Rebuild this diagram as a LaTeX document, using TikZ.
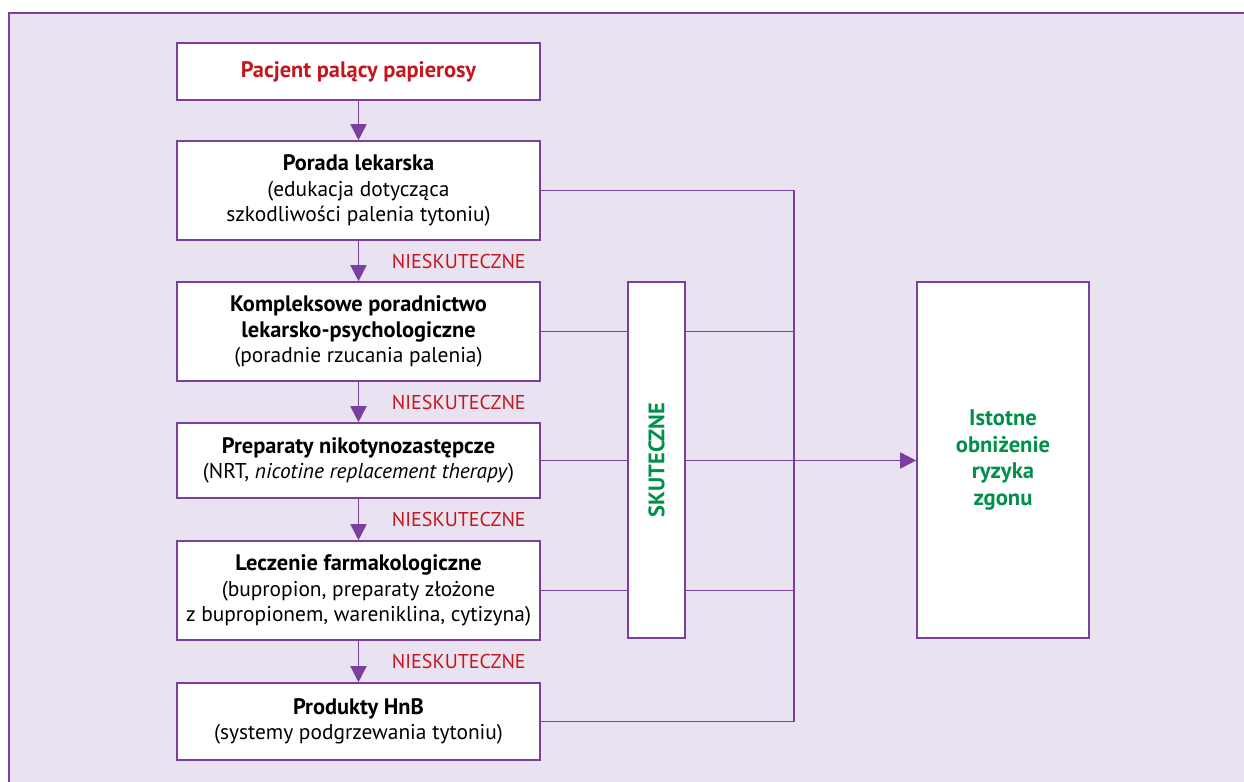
\documentclass[tikz,border=0pt]{standalone}
\usepackage{fontspec}
\setmainfont{PT Sans}
\usetikzlibrary{arrows.meta,positioning}

\definecolor{fiolet}{HTML}{7B3F9E}
\definecolor{tlo}{HTML}{E9E2F0}
\definecolor{czerwony}{HTML}{C4161C}
\definecolor{zielony}{HTML}{00904A}

\newcommand{\tyt}[1]{{\fontsize{11.2}{12.6}\selectfont\bfseries #1}}

\tikzset{
    krok/.style={rectangle, draw=fiolet, line width=0.8pt, fill=white, minimum width=181.5pt, align=center, inner sep=2pt, font=\fontsize{10.7}{12.6}\selectfont},
    nie/.style={text=czerwony, font=\fontsize{10}{12}\selectfont},
    linia/.style={draw=fiolet, line width=0.8pt},
    strz/.style={linia, -{Triangle[length=8pt,width=8pt]}},
}

\begin{document}
\begin{tikzpicture}[x=0.5pt,y=-0.5pt]
    \useasboundingbox (0,0) rectangle (1244,782);
    \fill[white] (0,0) rectangle (1244,782);
    \draw[fiolet, fill=tlo, line width=0.8pt] (9,13) rectangle (1260,800);

    % kolejne kroki
    \node[krok, minimum height=28.5pt] (pacjent) at (358.5,71.5) {\tyt{\textcolor{czerwony}{Pacjent palący papierosy}}};
    \node[krok, minimum height=49.5pt] (porada) at (358.5,190.5) {\tyt{Porada lekarska}\\(edukacja dotycząca\\szkodliwości palenia tytoniu)};
    \node[krok, minimum height=49.5pt] (poradnictwo) at (358.5,331.5) {\tyt{Kompleksowe poradnictwo}\\\tyt{lekarsko-psychologiczne}\\(poradnie rzucania palenia)};
    \node[krok, minimum height=37.5pt] (nrt) at (358.5,460.5) {\tyt{Preparaty nikotynozastępcze}\\(NRT, \textit{nicotine replacement therapy})};
    \node[krok, minimum height=49.5pt] (leczenie) at (358.5,590.5) {\tyt{Leczenie farmakologiczne}\\(bupropion, preparaty złożone\\z bupropionem, wareniklina, cytizyna)};
    \node[krok, minimum height=38.5pt] (hnb) at (358.5,721.5) {\tyt{Produkty HnB}\\(systemy podgrzewania tytoniu)};

    \node[krok, minimum width=28.5pt, minimum height=178pt, text=zielony] (skuteczne) at (656.5,460) {\rotatebox{90}{\tyt{SKUTECZNE}}};
    \node[krok, minimum width=86pt, minimum height=178pt, text=zielony, font=\fontsize{11.3}{13.3}\selectfont\bfseries] (wynik) at (1003,460) {Istotne\\obniżenie\\ryzyka\\zgonu};

    \coordinate (szyna) at (794,190);

    % w dol
    \draw[strz] (pacjent) -- (porada);
    \draw[strz] (porada) -- (poradnictwo) node[nie, midway, right=13pt] (n1) {NIESKUTECZNE};
    \draw[strz] (poradnictwo) -- (nrt) node[nie, midway, right=13pt] (n2) {NIESKUTECZNE};
    \draw[strz] (nrt) -- (leczenie) node[nie, midway, right=13pt] (n3) {NIESKUTECZNE};
    \draw[strz] (leczenie) -- (hnb) node[nie, midway, right=13pt] (n4) {NIESKUTECZNE};

    % w prawo
    \draw[linia] (porada.east) -- (porada.east -| szyna) -- (hnb.east -| szyna) -- (hnb.east);
    \draw[linia] (poradnictwo.east) -- (poradnictwo.east -| skuteczne.west);
    \draw[linia] (poradnictwo.east -| skuteczne.east) -- (poradnictwo.east -| szyna);
    \draw[linia] (nrt.east) -- (nrt.east -| skuteczne.west);
    \draw[strz] (nrt.east -| skuteczne.east) -- (nrt.east -| wynik.west);
    \draw[linia] (leczenie.east) -- (leczenie.east -| skuteczne.west);
    \draw[linia] (leczenie.east -| skuteczne.east) -- (leczenie.east -| szyna);
\end{tikzpicture}
\end{document}
